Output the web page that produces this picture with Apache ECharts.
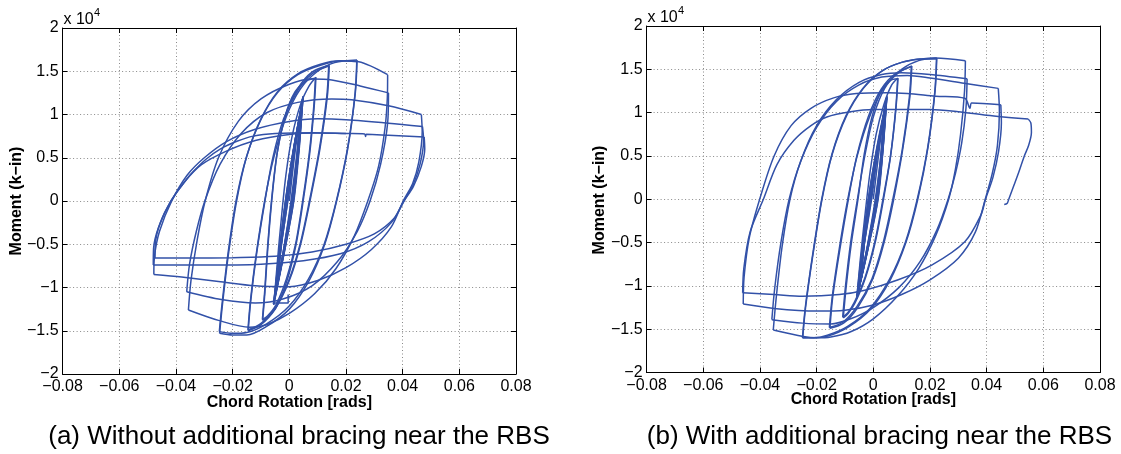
<!DOCTYPE html>
<html>
<head>
<meta charset="utf-8">
<script src="https://cdn.jsdelivr.net/npm/echarts@6/dist/echarts.min.js"></script>
<style>
html,body{margin:0;padding:0;background:#fff;}
#chart{width:1121px;height:454px;}
</style>
</head>
<body>
<div id="chart"></div>
<script>
// ---------- tick values and labels ----------
const xTicks = [-0.08, -0.06, -0.04, -0.02, 0, 0.02, 0.04, 0.06, 0.08];
const xTickLabels = ['\u22120.08', '\u22120.06', '\u22120.04', '\u22120.02', '0', '0.02', '0.04', '0.06', '0.08'];
const yTicks = [-2, -1.5, -1, -0.5, 0, 0.5, 1, 1.5, 2];
const yTickLabels = ['\u22122', '\u22121.5', '\u22121', '\u22120.5', '0', '0.5', '1', '1.5', '2'];

// ---------- panel (a): moment (x 10^4 k-in) vs chord rotation (rad), one branch per array ----------
const aElastic = [
  [[0,0],[0.0017,0.48],[0.0036,0.95]],
  [[0.0036,0.95],[0.0027,0.48],[0.0012,0],[-0.0012,-0.47],[-0.0040,-0.94]],
  [[-0.0040,-0.94],[-0.0029,-0.47],[-0.0013,0],[0.0010,0.49],[0.0038,0.98]],
  [[0.0038,0.98],[0.0026,0.49],[0.0008,0],[-0.0015,-0.48],[-0.0042,-0.96]],
  [[-0.0042,-0.96],[-0.0027,-0.48],[-0.0008,0],[0.0012,0.49],[0.0037,0.97]],
  [[0.0037,0.97],[0.0029,0.49],[0.0015,0],[-0.0011,-0.48],[-0.0041,-0.95]],
  [[-0.0041,-0.95],[-0.0028,-0.48],[-0.0011,0],[0.0013,0.55],[0.0043,1.09]],
  [[0.0043,1.09],[0.0030,0.55],[0.0010,0],[-0.0017,-0.54],[-0.0048,-1.07]],
  [[-0.0048,-1.07],[-0.0029,-0.54],[-0.0006,0],[0.0016,0.55],[0.0044,1.10]],
  [[0.0044,1.10],[0.0032,0.55],[0.0014,0],[-0.0016,-0.54],[-0.0049,-1.08]],
  [[-0.0049,-1.08],[-0.0034,-0.54],[-0.0014,0],[0.0012,0.55],[0.0043,1.09]],
  [[0.0043,1.09],[0.0027,0.55],[0.0006,0],[-0.0019,-0.54],[-0.0048,-1.07]],
  [[-0.0048,-1.07],[-0.0031,-0.54],[-0.0010,0],[0.0015,0.59],[0.0047,1.18]],
  [[0.0047,1.18],[0.0033,0.59],[0.0012,0],[-0.0019,-0.58],[-0.0054,-1.17]],
  [[-0.0054,-1.17],[-0.0032,-0.58],[-0.0005,0],[0.0019,0.6],[0.0048,1.21]],
  [[0.0048,1.21],[0.0035,0.6],[0.0016,0],[-0.0018,-0.6],[-0.0055,-1.2]],
  [[-0.0055,-1.2],[-0.0036,-0.6],[-0.0013,0],[0.0015,0.6],[0.0049,1.2]],
  [[0.0049,1.2],[0.0032,0.6],[0.0009,0],[-0.0022,-0.6],[-0.0056,-1.19]],
  [[-0.0056,-1.19],[-0.0034,-0.6],[-0.0008,0],[0.0017,0.6],[0.0048,1.19]],
  [[0.0048,1.19],[0.0034,0.6],[0.0013,0],[-0.0019,-0.6],[-0.0054,-1.18]]
];
const aHook = [[-0.0054,-1.18],[-0.0004,-1.18],[-0.0004,-1.08]];
const aAmp09 = [
  [[-0.0054,-1.18],[-0.0042,-0.7],[-0.0028,-0.2],[-0.0012,0.3],[0.001,0.75],[0.004,1.12],[0.007,1.33],[0.0094,1.43]],
  [[0.0094,1.43],[0.0088,1.1],[0.0072,0.55],[0.0049,0],[0.0024,-0.5],[-0.0008,-0.92],[-0.0045,-1.22],[-0.0075,-1.34],[-0.0094,-1.38]],
  [[-0.0094,-1.38],[-0.0086,-1.05],[-0.0076,-0.55],[-0.0062,0],[-0.0043,0.55],[-0.0015,0.98],[0.002,1.26],[0.006,1.39],[0.0092,1.42]],
  [[0.0092,1.42],[0.0086,1.08],[0.007,0.54],[0.0047,0],[0.0022,-0.5],[-0.001,-0.9],[-0.0047,-1.2],[-0.0077,-1.33],[-0.0095,-1.37]]
];
const aAmp14 = [
  [[-0.0095,-1.37],[-0.0087,-1.05],[-0.0077,-0.55],[-0.0063,0],[-0.0043,0.55],[-0.0012,1.0],[0.003,1.3],[0.008,1.49],[0.0141,1.57]],
  [[0.0141,1.57],[0.0134,1.2],[0.0108,0.6],[0.0073,0],[0.004,-0.5],[0.0,-0.92],[-0.005,-1.25],[-0.01,-1.43],[-0.0145,-1.5]],
  [[-0.0145,-1.5],[-0.0136,-1.15],[-0.0115,-0.6],[-0.0086,0],[-0.0058,0.5],[-0.002,0.95],[0.003,1.28],[0.008,1.47],[0.0139,1.56]],
  [[0.0139,1.56],[0.0132,1.2],[0.0106,0.6],[0.0071,0],[0.0038,-0.5],[-0.0002,-0.92],[-0.0052,-1.25],[-0.0102,-1.42],[-0.0146,-1.49]]
];
const aAmp24 = [
  [[-0.0146,-1.49],[-0.0137,-1.15],[-0.0116,-0.6],[-0.0087,0],[-0.0055,0.5],[-0.001,0.98],[0.004,1.3],[0.01,1.5],[0.016,1.6],[0.0239,1.63]],
  [[0.0239,1.63],[0.0233,1.25],[0.0206,0.6],[0.0167,0],[0.0125,-0.5],[0.007,-0.92],[0.0,-1.25],[-0.008,-1.45],[-0.015,-1.55],[-0.02,-1.55],[-0.0246,-1.53]],
  [[-0.0246,-1.53],[-0.0236,-1.2],[-0.0215,-0.62],[-0.0186,0],[-0.015,0.52],[-0.01,0.95],[-0.004,1.27],[0.003,1.47],[0.011,1.58],[0.018,1.62],[0.0238,1.61]],
  [[0.0238,1.61],[0.0232,1.24],[0.0205,0.6],[0.0166,0],[0.0123,-0.5],[0.0068,-0.9],[-0.0002,-1.22],[-0.008,-1.42],[-0.015,-1.52],[-0.02,-1.53],[-0.0247,-1.51]]
];
const aAmp35 = [
  [[-0.0247,-1.51],[-0.0237,-1.18],[-0.0216,-0.6],[-0.0188,0],[-0.0152,0.5],[-0.0102,0.93],[-0.0042,1.25],[0.003,1.46],[0.011,1.57],[0.019,1.62],[0.0245,1.61],[0.0347,1.46]],
  [[0.0347,1.46],[0.0346,1.2],[0.0338,0.85],[0.0315,0.4],[0.0277,0],[0.023,-0.4],[0.0165,-0.78],[0.009,-1.07],[0.0,-1.3],[-0.008,-1.43],[-0.014,-1.46],[-0.025,-1.38],[-0.0356,-1.26]],
  [[-0.0356,-1.26],[-0.0347,-0.92],[-0.0325,-0.45],[-0.0297,0],[-0.025,0.5],[-0.018,0.92],[-0.01,1.18],[0.0,1.35],[0.008,1.41],[0.015,1.4],[0.025,1.33],[0.035,1.25]],
  [[0.035,1.25],[0.0347,0.9],[0.0322,0.42],[0.0285,0],[0.024,-0.35],[0.017,-0.7],[0.008,-0.98],[-0.002,-1.13],[-0.012,-1.18],[-0.024,-1.14],[-0.0362,-1.05]]
];
const aAmp47 = [
  [[-0.0362,-1.05],[-0.0352,-0.73],[-0.0328,-0.35],[-0.0298,0],[-0.0245,0.42],[-0.017,0.78],[-0.008,1.02],[0.003,1.14],[0.015,1.18],[0.022,1.17],[0.035,1.1],[0.0466,1.0]],
  [[0.0466,1.0],[0.0469,0.8],[0.0457,0.45],[0.0435,0.2],[0.0402,0],[0.036,-0.3],[0.029,-0.56],[0.02,-0.77],[0.01,-0.92],[0.0,-0.99],[-0.012,-0.98],[-0.025,-0.93],[-0.038,-0.88],[-0.0478,-0.85]],
  [[-0.0478,-0.85],[-0.0476,-0.65],[-0.0458,-0.35],[-0.0415,0],[-0.036,0.3],[-0.03,0.5],[-0.022,0.69],[-0.012,0.83],[0.0,0.92],[0.01,0.95],[0.02,0.94],[0.035,0.9],[0.047,0.86]],
  [[0.047,0.86],[0.0474,0.7],[0.0461,0.42],[0.0436,0.18],[0.0404,0],[0.036,-0.25],[0.028,-0.47],[0.018,-0.61],[0.005,-0.69],[-0.01,-0.73],[-0.03,-0.74],[-0.048,-0.74]],
  [[-0.048,-0.74],[-0.0479,-0.55],[-0.0461,-0.3],[-0.0418,0],[-0.0365,0.24],[-0.0339,0.34],[-0.0295,0.48],[-0.0244,0.6],[-0.0185,0.69],[-0.0127,0.75],[-0.005,0.78],[0.0085,0.79],[0.02,0.78],[0.0266,0.775],[0.0269,0.745],[0.0272,0.772],[0.035,0.76],[0.0476,0.74]],
  [[0.0476,0.74],[0.0478,0.6],[0.0466,0.4],[0.0438,0.17],[0.0405,0],[0.037,-0.2],[0.03,-0.38],[0.02,-0.5],[0.008,-0.59],[-0.005,-0.64],[-0.02,-0.655],[-0.035,-0.66],[-0.0474,-0.66]],
  [[-0.0474,-0.66],[-0.0473,-0.5],[-0.0455,-0.25],[-0.0417,0],[-0.037,0.22],[-0.031,0.42],[-0.022,0.58],[-0.012,0.7],[0.0,0.77],[0.01,0.785],[0.02,0.78]]
];

// ---------- panel (b) ----------
const bElastic = [
  [[0,0],[0.0017,0.47],[0.0035,0.93]],
  [[0.0035,0.93],[0.0027,0.47],[0.0013,0],[-0.0012,-0.46],[-0.0042,-0.91]],
  [[-0.0042,-0.91],[-0.0031,-0.46],[-0.0016,0],[0.0008,0.48],[0.0037,0.96]],
  [[0.0037,0.96],[0.0026,0.48],[0.0009,0],[-0.0016,-0.47],[-0.0045,-0.94]],
  [[-0.0045,-0.94],[-0.0030,-0.47],[-0.0010,0],[0.0010,0.48],[0.0036,0.95]],
  [[0.0036,0.95],[0.0029,0.48],[0.0016,0],[-0.0012,-0.47],[-0.0044,-0.93]],
  [[-0.0044,-0.93],[-0.0031,-0.47],[-0.0014,0],[0.0011,0.53],[0.0042,1.06]],
  [[0.0042,1.06],[0.0030,0.53],[0.0011,0],[-0.0018,-0.52],[-0.0051,-1.04]],
  [[-0.0051,-1.04],[-0.0032,-0.52],[-0.0008,0],[0.0015,0.54],[0.0044,1.08]],
  [[0.0044,1.08],[0.0033,0.54],[0.0015,0],[-0.0017,-0.52],[-0.0052,-1.05]],
  [[-0.0052,-1.05],[-0.0037,-0.52],[-0.0017,0],[0.0010,0.54],[0.0043,1.07]],
  [[0.0043,1.07],[0.0028,0.54],[0.0007,0],[-0.0020,-0.52],[-0.0051,-1.04]],
  [[-0.0051,-1.04],[-0.0034,-0.52],[-0.0012,0],[0.0015,0.58],[0.0047,1.16]],
  [[0.0047,1.16],[0.0033,0.58],[0.0013,0],[-0.0020,-0.56],[-0.0057,-1.13]],
  [[-0.0057,-1.13],[-0.0034,-0.56],[-0.0006,0],[0.0018,0.6],[0.0048,1.19]],
  [[0.0048,1.19],[0.0035,0.6],[0.0017,0],[-0.0019,-0.58],[-0.0059,-1.15]],
  [[-0.0059,-1.15],[-0.0040,-0.58],[-0.0018,0],[0.0012,0.59],[0.0048,1.18]],
  [[0.0048,1.18],[0.0032,0.59],[0.0010,0],[-0.0022,-0.57],[-0.0058,-1.14]],
  [[-0.0058,-1.14],[-0.0037,-0.57],[-0.0011,0],[0.0015,0.58],[0.0047,1.17]],
  [[0.0047,1.17],[0.0034,0.58],[0.0014,0],[-0.0020,-0.57],[-0.0058,-1.14]]
];
const bAmp09 = [
  [[-0.0058,-1.14],[-0.0046,-0.7],[-0.003,-0.2],[-0.0012,0.3],[0.001,0.75],[0.0038,1.1],[0.0065,1.32],[0.0087,1.4]],
  [[0.0087,1.4],[0.008,1.05],[0.0062,0.52],[0.0036,0],[0.0008,-0.48],[-0.0027,-0.9],[-0.0065,-1.2],[-0.0089,-1.32],[-0.0106,-1.37]],
  [[-0.0106,-1.37],[-0.0096,-1.02],[-0.0078,-0.52],[-0.0054,0],[-0.0032,0.52],[-0.0004,0.96],[0.0028,1.25],[0.006,1.37],[0.0086,1.39]],
  [[0.0086,1.39],[0.0079,1.04],[0.0061,0.51],[0.0034,0],[0.0006,-0.48],[-0.0029,-0.9],[-0.0067,-1.19],[-0.009,-1.31],[-0.0108,-1.36]]
];
const bAmp14 = [
  [[-0.0108,-1.36],[-0.0098,-1.0],[-0.008,-0.5],[-0.0056,0],[-0.003,0.5],[0.0,0.95],[0.004,1.28],[0.0085,1.45],[0.0136,1.54]],
  [[0.0136,1.54],[0.0129,1.18],[0.0104,0.58],[0.0072,0],[0.0038,-0.5],[-0.0002,-0.92],[-0.0055,-1.25],[-0.0105,-1.43],[-0.0153,-1.49]],
  [[-0.0153,-1.49],[-0.0144,-1.15],[-0.0118,-0.58],[-0.0088,0],[-0.0058,0.5],[-0.0018,0.95],[0.0028,1.27],[0.0078,1.45],[0.0134,1.53]],
  [[0.0134,1.53],[0.0127,1.17],[0.0102,0.57],[0.0069,0],[0.0035,-0.5],[-0.0005,-0.92],[-0.0058,-1.24],[-0.0108,-1.42],[-0.0155,-1.48]]
];
const bAmp24 = [
  [[-0.0155,-1.48],[-0.0145,-1.13],[-0.012,-0.57],[-0.009,0],[-0.0057,0.5],[-0.001,0.98],[0.004,1.3],[0.01,1.5],[0.016,1.6],[0.0224,1.63]],
  [[0.0224,1.63],[0.0218,1.25],[0.0193,0.6],[0.0157,0],[0.0115,-0.5],[0.006,-0.93],[-0.001,-1.27],[-0.009,-1.48],[-0.016,-1.58],[-0.021,-1.6],[-0.025,-1.6]],
  [[-0.025,-1.6],[-0.024,-1.25],[-0.0214,-0.64],[-0.0182,0],[-0.0146,0.52],[-0.0097,0.96],[-0.0037,1.28],[0.003,1.48],[0.01,1.58],[0.017,1.62],[0.0223,1.62]],
  [[0.0223,1.62],[0.0217,1.24],[0.0192,0.6],[0.0155,0],[0.0113,-0.5],[0.0058,-0.92],[-0.0012,-1.26],[-0.0092,-1.47],[-0.0162,-1.57],[-0.021,-1.6],[-0.0249,-1.6]]
];
const bAmp33 = [
  [[-0.0249,-1.6],[-0.0239,-1.25],[-0.0213,-0.64],[-0.0181,0],[-0.0145,0.52],[-0.0095,0.96],[-0.0035,1.28],[0.003,1.48],[0.01,1.58],[0.017,1.62],[0.022,1.63],[0.0325,1.6]],
  [[0.0325,1.6],[0.0322,1.25],[0.0308,0.75],[0.029,0.35],[0.0266,0],[0.022,-0.42],[0.016,-0.8],[0.0085,-1.12],[0.0,-1.38],[-0.008,-1.53],[-0.015,-1.59],[-0.02,-1.6],[-0.0247,-1.585],[-0.0353,-1.51]],
  [[-0.0353,-1.51],[-0.0343,-1.15],[-0.0322,-0.55],[-0.0294,0],[-0.0255,0.45],[-0.02,0.85],[-0.013,1.15],[-0.005,1.35],[0.003,1.44],[0.01,1.46],[0.02,1.44],[0.0331,1.39]],
  [[0.0331,1.39],[0.0327,1.05],[0.0312,0.65],[0.029,0.3],[0.0264,0],[0.0225,-0.35],[0.0165,-0.72],[0.009,-1.02],[0.0,-1.25],[-0.008,-1.38],[-0.015,-1.44],[-0.025,-1.43],[-0.0358,-1.39]]
];
const bAmp44 = [
  [[-0.0358,-1.39],[-0.0348,-1.03],[-0.0326,-0.5],[-0.0297,0],[-0.0257,0.43],[-0.02,0.83],[-0.013,1.13],[-0.005,1.32],[0.003,1.41],[0.012,1.43],[0.02,1.4],[0.032,1.34],[0.0441,1.28]],
  [[0.0441,1.28],[0.0445,1.02],[0.0438,0.62],[0.042,0.3],[0.0395,0],[0.036,-0.38],[0.03,-0.68],[0.02,-0.93],[0.01,-1.1],[0.0,-1.22],[-0.01,-1.28],[-0.02,-1.29],[-0.035,-1.26],[-0.0459,-1.21]],
  [[-0.0459,-1.21],[-0.0456,-0.9],[-0.0438,-0.45],[-0.0401,0],[-0.035,0.5],[-0.029,0.85],[-0.022,1.05],[-0.014,1.17],[-0.006,1.22],[0.005,1.23],[0.012,1.22],[0.022,1.19],[0.0323,1.165],[0.0341,1.05],[0.0347,1.11],[0.045,1.09]],
  [[0.045,1.09],[0.0452,0.88],[0.0442,0.55],[0.0422,0.25],[0.0396,0],[0.038,-0.18],[0.0323,-0.49],[0.0206,-0.76],[0.0088,-0.93],[-0.003,-1.05],[-0.012,-1.1],[-0.025,-1.12],[-0.035,-1.1],[-0.0461,-1.08]]
];
const bFinal = [
  [[-0.0461,-1.08],[-0.0457,-0.8],[-0.0435,-0.38],[-0.0388,0],[-0.034,0.4],[-0.028,0.68],[-0.022,0.85],[-0.0164,0.95],[-0.008,1.01],[0.0,1.035],[0.02,1.035],[0.03,1.01],[0.04,0.97],[0.0547,0.925]],
  [[0.0547,0.925],[0.0556,0.88],[0.0558,0.77],[0.0548,0.62],[0.0533,0.5],[0.0512,0.3],[0.0495,0.15],[0.0478,0.0],[0.0472,-0.05],[0.0462,-0.06]]
];

const panelA = [aElastic, [aHook], aAmp09, aAmp14, aAmp24, aAmp35, aAmp47];
const panelB = [bElastic, bAmp09, bAmp14, bAmp24, bAmp33, bAmp44, bFinal];

// ---------- styling ----------
const LINE = '#3251a8';
const FONT = '"Liberation Sans", Arial, Helvetica, sans-serif';
const grids = [
  {left: 62.6, top: 28, width: 453.4, height: 346},
  {left: 646.6, top: 26, width: 453.4, height: 346.5}
];

function xFmt(v){ const i = xTicks.findIndex(t => Math.abs(t - v) < 1e-9); return i >= 0 ? xTickLabels[i] : ''; }
function yFmt(v){ const i = yTicks.findIndex(t => Math.abs(t - v) < 1e-9); return i >= 0 ? yTickLabels[i] : ''; }

const xAxes = [], yAxes = [];
[0, 1].forEach(g => {
  xAxes.push({
    type: 'value', gridIndex: g, min: xTicks[0], max: xTicks[xTicks.length - 1], interval: 0.02, position: 'bottom',
    axisLine: {show: true, onZero: false, lineStyle: {color: '#000', width: 1}},
    axisTick: {show: true, inside: true, length: 5, lineStyle: {color: '#000'}},
    axisLabel: {show: true, margin: 5, color: '#000', fontSize: 16, fontFamily: FONT, formatter: xFmt},
    splitLine: {show: true, lineStyle: {color: '#8a8a8a', type: [1, 2.5], width: 1}}
  });
  yAxes.push({
    type: 'value', gridIndex: g, min: yTicks[0], max: yTicks[yTicks.length - 1], interval: 0.5, position: 'left',
    axisLine: {show: true, onZero: false, lineStyle: {color: '#000', width: 1}},
    axisTick: {show: true, inside: true, length: 5, lineStyle: {color: '#000'}},
    axisLabel: {show: true, margin: 4, color: '#000', fontSize: 16, fontFamily: FONT, formatter: yFmt},
    splitLine: {show: true, lineStyle: {color: '#8a8a8a', type: [1, 2.5], width: 1}}
  });
});
[0, 1].forEach(g => {
  xAxes.push({
    type: 'value', gridIndex: g, min: xTicks[0], max: xTicks[xTicks.length - 1], interval: 0.02, position: 'top',
    axisLine: {show: true, onZero: false, lineStyle: {color: '#000', width: 1}},
    axisTick: {show: true, inside: true, length: 5, lineStyle: {color: '#000'}},
    axisLabel: {show: false}, splitLine: {show: false}
  });
  yAxes.push({
    type: 'value', gridIndex: g, min: yTicks[0], max: yTicks[yTicks.length - 1], interval: 0.5, position: 'right',
    axisLine: {show: true, onZero: false, lineStyle: {color: '#000', width: 1}},
    axisTick: {show: true, inside: true, length: 5, lineStyle: {color: '#000'}},
    axisLabel: {show: false}, splitLine: {show: false}
  });
});

const series = [];
[panelA, panelB].forEach((panel, g) => {
  panel.forEach(group => {
    group.forEach(branch => {
      series.push({
        type: 'line', xAxisIndex: g, yAxisIndex: g, data: branch,
        smooth: 0.3, showSymbol: false, symbol: 'none', silent: true,
        lineStyle: {color: LINE, width: 1.5}, z: 3
      });
    });
  });
});

function txt(x, y, text, font, rot) {
  const el = {
    type: 'text', x: x, y: y, silent: true,
    style: {text: text, font: font, fill: '#000', textAlign: 'center', textVerticalAlign: 'middle'}
  };
  if (rot) el.rotation = rot;
  return el;
}
function ltxt(x, y, text, font) {
  return {type: 'text', x: x, y: y, silent: true,
    style: {text: text, font: font, fill: '#000', textAlign: 'left', textVerticalAlign: 'middle'}};
}

const graphic = [
  txt(289.3, 402.5, 'Chord Rotation [rads]', 'bold 16px ' + FONT),
  txt(873.3, 400, 'Chord Rotation [rads]', 'bold 16px ' + FONT),
  txt(17, 201, 'Moment (k\u2212in)', 'bold 16px ' + FONT, Math.PI / 2),
  txt(600, 200, 'Moment (k\u2212in)', 'bold 16px ' + FONT, Math.PI / 2),
  ltxt(63.5, 20, 'x 10', '16px ' + FONT),
  ltxt(94, 13, '4', '11px ' + FONT),
  ltxt(647.5, 18, 'x 10', '16px ' + FONT),
  ltxt(678, 11, '4', '11px ' + FONT),
  txt(299, 437, '(a) Without additional bracing near the RBS', '26px ' + FONT),
  txt(879.5, 437, '(b) With additional bracing near the RBS', '26px ' + FONT)
];

const chart = echarts.init(document.getElementById('chart'), null, {renderer: 'canvas'});
chart.setOption({
  backgroundColor: '#fff',
  animation: false,
  grid: grids.map(g => Object.assign({show: false, containLabel: false}, g)),
  xAxis: xAxes,
  yAxis: yAxes,
  series: series,
  graphic: graphic
});
</script>
</body>
</html>
